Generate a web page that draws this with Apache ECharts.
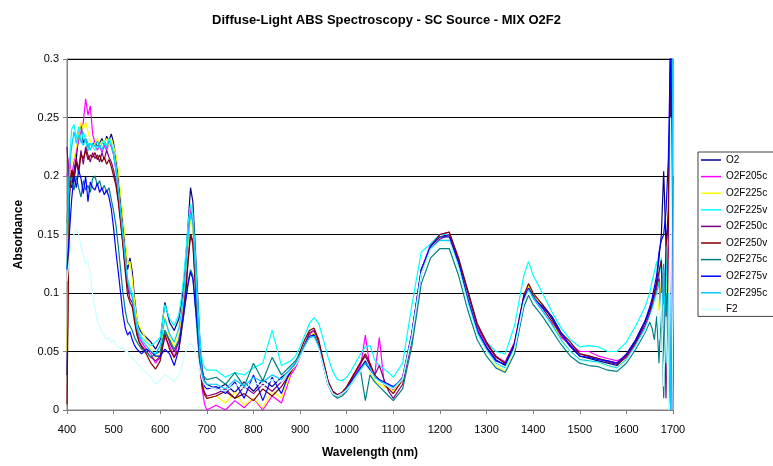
<!DOCTYPE html>
<html><head><meta charset="utf-8">
<script src="https://cdn.jsdelivr.net/npm/echarts@6/dist/echarts.min.js"></script>
<style>html,body{margin:0;padding:0;background:#fff}#c{width:773px;height:466px}</style>
</head><body><div id="c"></div>
<script>
const chartTitle = 'Diffuse-Light ABS Spectroscopy - SC Source - MIX O2F2';
const xTitle = 'Wavelength (nm)';
const yTitle = 'Absorbance';
const xTicks = [400,500,600,700,800,900,1000,1100,1200,1300,1400,1500,1600,1700];
const yTicks = [0,0.05,0.1,0.15,0.2,0.25,0.3];

const wavelengths = [
 400,405,410,415,420,425,430,435,440,445,450,455,460,465,470,475,480,485,490,495,500,505,510,515,520,525,530,535,540,545,550,555,560,
 570,580,590,600,610,620,630,640,645,650,655,660,665,670,675,680,685,690,695,700,
 720,740,760,780,800,820,840,860,880,
 890,900,910,920,930,940,950,960,970,980,990,1000,1010,1020,1030,1040,1050,1060,1070,1080,1090,1100,
 1120,1140,1160,1180,1200,1220,1240,1260,1280,1300,1320,1340,1360,1380,1390,1400,1420,1440,1460,1480,1500,1520,1540,1560,1580,1600,1620,1640,
 1650,1655,1660,1665,1670,1675,1680,1685,1690,1695,1700
];

const seriesNames = ['O2','O2F205c','O2F225c','O2F225v','O2F250c','O2F250v','O2F275c','O2F275v','O2F295c','F2'];
const seriesColors = ['#000080','#FF00FF','#FFFF00','#00FFFF','#800080','#800000','#008080','#0000FF','#00CCFF','#CCFFFF'];

const O2 = [
 0.030,0.195,0.190,0.205,0.215,0.235,0.245,0.228,0.232,0.222,0.228,0.226,0.230,0.225,0.228,0.232,0.226,0.234,0.230,0.236,0.228,0.215,0.200,0.178,0.160,0.140,0.120,0.130,0.118,0.095,0.078,0.070,0.066,
 0.062,0.058,0.052,0.060,0.092,0.075,0.068,0.078,0.090,0.105,0.130,0.160,0.190,0.178,0.140,0.100,0.060,0.035,0.025,0.022,
 0.018,0.022,0.015,0.024,0.016,0.026,0.020,0.028,0.034,
 0.040,0.047,0.056,0.064,0.065,0.055,0.038,0.022,0.014,0.012,0.014,0.018,0.024,0.030,0.036,0.042,0.034,0.028,0.025,0.022,0.020,0.018,
 0.028,0.066,0.120,0.140,0.148,0.150,0.124,0.096,0.068,0.054,0.043,0.038,0.055,0.096,0.106,0.098,0.090,0.078,0.064,0.054,0.046,0.044,0.042,0.040,0.038,0.046,0.058,0.075,
 0.085,0.090,0.100,0.110,0.130,0.150,0.204,0.140,0.170,0.300,0.000
];
const O2F205c = [
 0.200,0.215,0.200,0.212,0.222,0.230,0.238,0.246,0.266,0.252,0.260,0.236,0.228,0.222,0.226,0.220,0.226,0.222,0.228,0.225,0.218,0.205,0.188,0.168,0.148,0.128,0.110,0.100,0.098,0.082,0.070,0.062,0.058,
 0.052,0.048,0.040,0.045,0.062,0.055,0.045,0.060,0.075,0.092,0.120,0.150,0.172,0.160,0.120,0.075,0.040,0.018,0.005,0.000,
 0.004,0.000,0.008,0.002,0.010,0.000,0.012,0.006,0.030,
 0.036,0.045,0.055,0.065,0.068,0.058,0.040,0.024,0.016,0.013,0.015,0.019,0.025,0.031,0.038,0.064,0.036,0.030,0.062,0.024,0.022,0.017,
 0.028,0.065,0.120,0.142,0.150,0.152,0.128,0.098,0.070,0.056,0.046,0.041,0.058,0.098,0.105,0.095,0.084,0.074,0.062,0.056,0.050,0.050,0.046,0.044,0.042,0.046,0.056,0.072,
 0.082,0.088,0.096,0.105,0.115,0.090,0.125,0.060,0.140,0.000,0.320
];
const O2F225c = [
 0.050,0.190,0.210,0.215,0.225,0.235,0.246,0.240,0.246,0.238,0.230,0.225,0.228,0.232,0.226,0.230,0.228,0.232,0.226,0.232,0.225,0.218,0.205,0.185,0.165,0.145,0.124,0.127,0.112,0.092,0.078,0.072,0.068,
 0.060,0.052,0.045,0.048,0.080,0.062,0.055,0.065,0.078,0.095,0.120,0.145,0.162,0.155,0.118,0.078,0.045,0.025,0.015,0.010,
 0.012,0.006,0.015,0.004,0.010,0.002,0.016,0.010,0.032,
 0.038,0.046,0.055,0.063,0.066,0.057,0.040,0.023,0.015,0.012,0.014,0.018,0.023,0.029,0.035,0.040,0.032,0.025,0.022,0.020,0.018,0.016,
 0.025,0.064,0.118,0.140,0.148,0.148,0.124,0.093,0.066,0.050,0.038,0.033,0.052,0.094,0.106,0.100,0.088,0.076,0.060,0.050,0.043,0.042,0.040,0.038,0.036,0.044,0.056,0.070,
 0.080,0.086,0.094,0.102,0.085,0.110,0.070,0.130,0.020,0.320,0.000
];
const O2F225v = [
 0.120,0.210,0.240,0.244,0.232,0.242,0.228,0.238,0.230,0.222,0.228,0.225,0.222,0.226,0.224,0.228,0.230,0.226,0.232,0.228,0.220,0.208,0.190,0.170,0.150,0.130,0.112,0.105,0.100,0.085,0.072,0.066,0.062,
 0.058,0.055,0.058,0.062,0.090,0.078,0.072,0.082,0.095,0.112,0.135,0.160,0.176,0.168,0.135,0.095,0.060,0.042,0.036,0.034,
 0.034,0.028,0.032,0.030,0.036,0.040,0.068,0.038,0.042,
 0.046,0.054,0.064,0.074,0.079,0.074,0.060,0.045,0.033,0.026,0.025,0.028,0.034,0.041,0.048,0.054,0.055,0.043,0.038,0.035,0.032,0.028,
 0.040,0.090,0.135,0.142,0.150,0.150,0.126,0.098,0.072,0.058,0.050,0.048,0.072,0.115,0.127,0.115,0.100,0.084,0.070,0.060,0.054,0.055,0.054,0.050,0.050,0.058,0.072,0.088,
 0.100,0.110,0.118,0.127,0.112,0.130,0.090,0.140,0.050,0.000,0.320
];
const O2F250c = [
 0.225,0.190,0.205,0.198,0.215,0.205,0.222,0.210,0.225,0.218,0.212,0.220,0.215,0.218,0.212,0.220,0.214,0.222,0.216,0.212,0.205,0.195,0.180,0.162,0.142,0.122,0.105,0.095,0.092,0.078,0.066,0.058,0.055,
 0.050,0.045,0.042,0.046,0.068,0.058,0.050,0.058,0.070,0.085,0.105,0.130,0.150,0.145,0.110,0.070,0.040,0.022,0.015,0.012,
 0.014,0.018,0.010,0.020,0.014,0.022,0.016,0.024,0.033,
 0.038,0.046,0.056,0.066,0.068,0.058,0.041,0.024,0.015,0.012,0.014,0.019,0.026,0.033,0.040,0.046,0.038,0.030,0.038,0.026,0.016,0.010,
 0.022,0.060,0.116,0.138,0.146,0.150,0.128,0.100,0.072,0.057,0.045,0.040,0.056,0.095,0.104,0.096,0.087,0.076,0.064,0.055,0.048,0.046,0.044,0.041,0.039,0.045,0.057,0.072,
 0.082,0.088,0.095,0.104,0.112,0.080,0.120,0.010,0.150,0.320,0.000
];
const O2F250v = [
 0.005,0.180,0.205,0.195,0.212,0.202,0.218,0.215,0.222,0.214,0.218,0.216,0.220,0.214,0.218,0.212,0.216,0.210,0.214,0.208,0.200,0.192,0.178,0.160,0.140,0.118,0.098,0.092,0.088,0.075,0.064,0.058,0.054,
 0.048,0.040,0.035,0.042,0.065,0.052,0.045,0.052,0.065,0.080,0.100,0.128,0.150,0.142,0.108,0.068,0.038,0.020,0.013,0.010,
 0.012,0.016,0.010,0.014,0.008,0.018,0.012,0.020,0.032,
 0.040,0.050,0.060,0.068,0.070,0.060,0.042,0.025,0.016,0.013,0.015,0.020,0.027,0.034,0.041,0.048,0.040,0.030,0.026,0.022,0.018,0.014,
 0.026,0.064,0.118,0.140,0.150,0.152,0.130,0.102,0.074,0.058,0.046,0.040,0.057,0.098,0.108,0.100,0.090,0.080,0.066,0.058,0.048,0.046,0.044,0.042,0.040,0.047,0.060,0.076,
 0.086,0.092,0.100,0.108,0.118,0.128,0.030,0.140,0.160,0.320,0.020
];
const O2F275c = [
 0.160,0.200,0.195,0.188,0.200,0.190,0.182,0.196,0.188,0.192,0.186,0.198,0.200,0.192,0.196,0.188,0.192,0.186,0.190,0.180,0.170,0.158,0.140,0.120,0.100,0.085,0.075,0.072,0.068,0.062,0.058,0.055,0.052,
 0.050,0.045,0.048,0.050,0.068,0.060,0.052,0.060,0.068,0.080,0.095,0.110,0.120,0.115,0.090,0.062,0.040,0.030,0.028,0.026,
 0.028,0.022,0.032,0.020,0.040,0.025,0.045,0.030,0.038,
 0.042,0.048,0.055,0.062,0.063,0.054,0.038,0.022,0.013,0.010,0.012,0.016,0.022,0.028,0.033,0.008,0.030,0.024,0.020,0.016,0.012,0.008,
 0.018,0.055,0.108,0.130,0.138,0.138,0.115,0.085,0.060,0.046,0.036,0.032,0.048,0.088,0.098,0.090,0.080,0.068,0.056,0.046,0.040,0.038,0.037,0.034,0.033,0.040,0.052,0.066,
 0.075,0.070,0.060,0.080,0.040,0.090,0.010,0.100,0.060,0.000,0.200
];
const O2F275v = [
 0.120,0.150,0.180,0.200,0.190,0.205,0.198,0.185,0.200,0.178,0.195,0.190,0.188,0.194,0.186,0.190,0.184,0.188,0.182,0.172,0.155,0.135,0.118,0.100,0.082,0.070,0.064,0.067,0.060,0.055,0.052,0.050,0.048,
 0.052,0.050,0.046,0.046,0.052,0.048,0.038,0.052,0.068,0.082,0.095,0.108,0.118,0.112,0.090,0.070,0.045,0.030,0.020,0.018,
 0.020,0.014,0.024,0.010,0.030,0.008,0.028,0.014,0.035,
 0.038,0.046,0.055,0.063,0.064,0.054,0.038,0.022,0.014,0.012,0.014,0.018,0.024,0.030,0.036,0.040,0.034,0.028,0.026,0.024,0.022,0.020,
 0.026,0.066,0.120,0.140,0.148,0.148,0.126,0.094,0.068,0.053,0.042,0.039,0.056,0.096,0.104,0.096,0.088,0.080,0.066,0.055,0.046,0.045,0.043,0.042,0.040,0.048,0.060,0.076,
 0.088,0.095,0.105,0.115,0.135,0.145,0.150,0.170,0.214,0.320,0.000
];
const O2F295c = [
 0.150,0.205,0.225,0.238,0.228,0.235,0.230,0.226,0.232,0.228,0.222,0.228,0.225,0.230,0.226,0.222,0.228,0.224,0.230,0.226,0.218,0.205,0.188,0.168,0.148,0.128,0.110,0.102,0.096,0.082,0.070,0.064,0.060,
 0.055,0.050,0.048,0.055,0.078,0.065,0.058,0.070,0.082,0.098,0.122,0.148,0.168,0.160,0.122,0.082,0.048,0.030,0.024,0.022,
 0.022,0.018,0.026,0.020,0.028,0.024,0.030,0.026,0.036,
 0.040,0.047,0.055,0.062,0.063,0.054,0.038,0.022,0.014,0.012,0.014,0.018,0.023,0.029,0.035,0.040,0.036,0.028,0.025,0.023,0.021,0.019,
 0.027,0.064,0.117,0.138,0.145,0.145,0.122,0.092,0.066,0.051,0.040,0.036,0.053,0.093,0.103,0.096,0.085,0.073,0.060,0.050,0.043,0.042,0.041,0.038,0.036,0.043,0.055,0.070,
 0.080,0.086,0.094,0.100,0.110,0.070,0.120,0.040,0.100,0.000,0.300
];
const F2 = [
 0.110,0.130,0.145,0.150,0.155,0.150,0.140,0.132,0.125,0.128,0.115,0.098,0.088,0.075,0.072,0.066,0.064,0.060,0.062,0.058,0.060,0.055,0.054,0.052,0.055,0.050,0.050,0.046,0.045,0.042,0.040,0.038,0.035,
 0.032,0.028,0.022,0.026,0.030,0.028,0.024,0.030,0.036,0.044,0.050,0.055,0.057,0.055,0.050,0.045,0.035,0.026,0.022,0.020,
 0.018,0.016,0.022,0.018,0.024,0.020,0.026,0.024,0.034,
 0.038,0.045,0.053,0.060,0.061,0.052,0.037,0.022,0.014,0.012,0.014,0.017,0.022,0.028,0.033,0.038,0.033,0.027,0.024,0.022,0.020,0.018,
 0.026,0.063,0.116,0.137,0.144,0.144,0.121,0.090,0.064,0.050,0.039,0.035,0.052,0.092,0.101,0.094,0.083,0.071,0.058,0.049,0.042,0.041,0.040,0.037,0.035,0.042,0.054,0.068,
 0.078,0.084,0.090,0.098,0.060,0.100,0.020,0.080,0.000,0.250,0.000
];

const allValues = [O2,O2F205c,O2F225c,O2F225v,O2F250c,O2F250v,O2F275c,O2F275v,O2F295c,F2];
const FONT = '"Liberation Sans", Arial, sans-serif';

const chart = echarts.init(document.getElementById('c'), null, {renderer:'canvas'});
chart.setOption({
  animation: false,
  backgroundColor: '#fff',
  title: {
    text: chartTitle, left: 'center', top: 9,
    textStyle: {fontFamily: FONT, fontSize: 13, fontWeight: 'bold', color: '#000'}
  },
  legend: {
    data: seriesNames.map(n => ({name: n, icon: 'rect'})),
    orient: 'vertical', left: 698, top: 152,
    itemWidth: 20, itemHeight: 1.5, itemGap: 6.6,
    padding: [3, 8, 2, 3],
    borderColor: '#404040', borderWidth: 1,
    textStyle: {fontFamily: FONT, fontSize: 10, lineHeight: 10, color: '#000'}
  },
  grid: {left: 67, top: 59, width: 606, height: 351, show: true, borderColor: '#808080', borderWidth: 1, containLabel: false},
  xAxis: {
    type: 'value', min: xTicks[0], max: xTicks[xTicks.length-1], interval: xTicks[1]-xTicks[0],
    name: xTitle, nameLocation: 'middle', nameGap: 37,
    nameTextStyle: {fontFamily: FONT, fontSize: 12, fontWeight: 'bold', color: '#000'},
    axisLine: {lineStyle: {color: '#808080'}},
    axisTick: {show: true, length: 4, lineStyle: {color: '#808080'}},
    axisLabel: {fontFamily: FONT, fontSize: 11, color: '#000', margin: 14, formatter: v => String(v)},
    splitLine: {show: false}
  },
  yAxis: {
    type: 'value', min: yTicks[0], max: yTicks[yTicks.length-1], interval: yTicks[1]-yTicks[0],
    name: yTitle, nameLocation: 'middle', nameGap: 42,
    nameTextStyle: {fontFamily: FONT, fontSize: 12, fontWeight: 'bold', color: '#000'},
    axisLine: {show: true, lineStyle: {color: '#808080'}},
    axisTick: {show: true, length: 4, lineStyle: {color: '#808080'}},
    axisLabel: {fontFamily: FONT, fontSize: 11, color: '#000', margin: 8,
      formatter: v => String(Math.round(v*100)/100)},
    splitLine: {show: true, lineStyle: {color: '#000', width: 1}}
  },
  series: seriesNames.map((n, k) => ({
    name: n, type: 'line', symbol: 'none', clip: true,
    data: wavelengths.map((w, i) => [w, allValues[k][i]]),
    lineStyle: {color: seriesColors[k], width: 1.2},
    itemStyle: {color: seriesColors[k]}
  }))
});
</script>
</body></html>
